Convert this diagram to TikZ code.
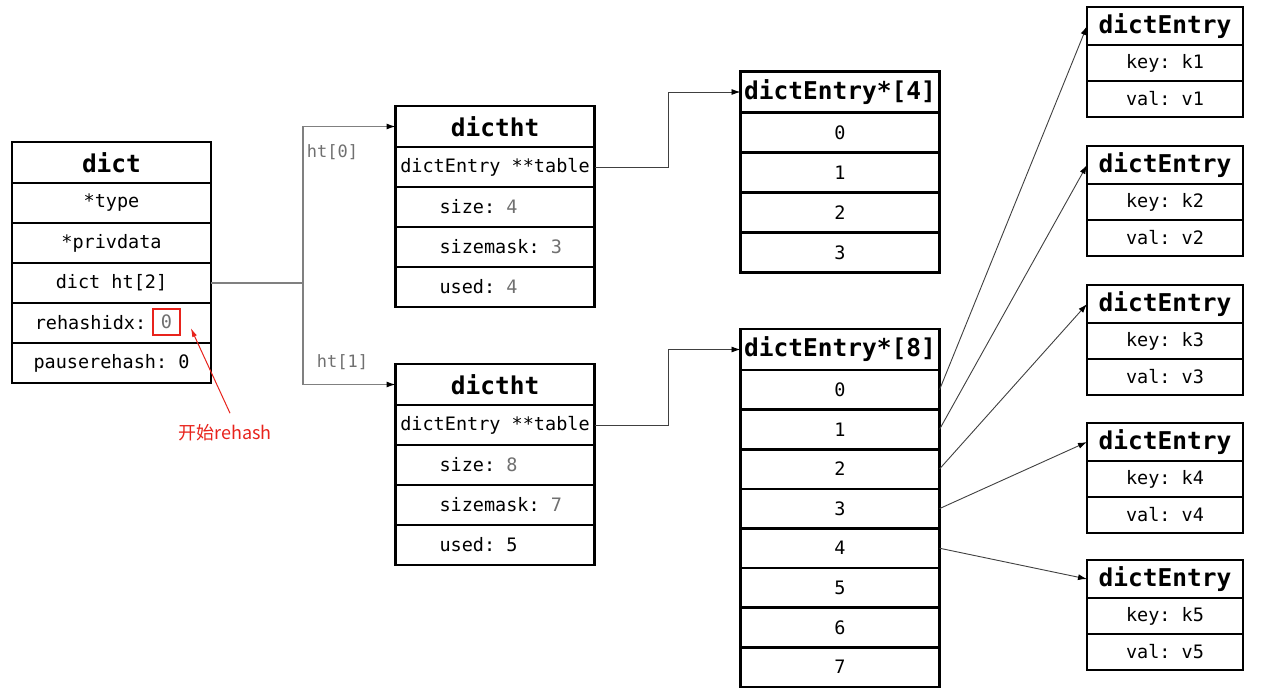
\documentclass[tikz,border=0pt]{standalone}
\usepackage{fontspec}
\setmonofont{DejaVu Sans Mono}
\newfontfamily\cjk{Noto Sans CJK SC}
\usetikzlibrary{arrows.meta,positioning}
\definecolor{valgray}{HTML}{707070}
\definecolor{linkgray}{HTML}{808080}
\definecolor{notered}{HTML}{E8231C}
\newcommand{\gv}[1]{\textcolor{valgray}{#1}}
\newcommand{\fld}[1]{\makebox[111pt][l]{#1}}

\begin{document}
\begin{tikzpicture}[x=1pt,y=-1pt,>=Latex,node distance=0pt,
box/.style={draw,line width=2.6pt,outer sep=0pt,inner sep=0pt,minimum width=199pt,minimum height=40pt,font=\ttfamily\fontsize{18.5}{20}\selectfont},
head/.style={box,minimum height=41pt,font=\ttfamily\bfseries\fontsize{24.5}{26}\selectfont},
ent/.style={box,minimum width=156pt,minimum height=36pt},
enthead/.style={head,minimum width=156pt,minimum height=38pt},
wire/.style={linkgray,line width=1.1pt},
link/.style={wire,-{Latex[length=9pt,width=6pt,color=black]}},
ptr/.style={black!75,line width=0.9pt,-{Latex[length=9pt,width=6pt,color=black]}},
lab/.style={font=\ttfamily\fontsize{17}{18}\selectfont,text=valgray}]
\useasboundingbox[fill=white] (0,0) rectangle (1268,699);
\node[head] (dict) at (111.5,162.5) {dict};
\node[box,below=of dict] (dtype) {*type};
\node[box,below=of dtype] (dpriv) {*privdata};
\node[box,below=of dpriv] (dht) {dict ht[2]};
\node[box,below=of dht] (didx) {rehashidx:\rule{42pt}{0pt}};
\node[box,below=of didx] (dpause) {pauserehash: 0};
\node[draw=notered,line width=1.6pt,minimum width=27pt,minimum height=26pt,inner sep=0pt,font=\ttfamily\fontsize{18.5}{20}\selectfont,text=valgray] (zero) at (166.5,322) {0};
\node[font=\cjk\fontsize{18}{20}\selectfont,text=notered] (note) at (225,433) {开始rehash};
\draw[notered,line width=1pt,-{Latex[length=9pt,width=5pt]}] ([shift={(5,-8)}]note.north) -- ([shift={(10,6)}]zero.east);
\foreach \n/\y/\s/\m/\u in {0/126.5/\gv{4}/\gv{3}/\gv{4},1/384.5/\gv{8}/\gv{7}/5} {
  \node[head] (ht\n) at (495,\y) {dictht};
  \node[box,below=of ht\n] (tab\n) {dictEntry **table};
  \node[box,below=of tab\n] (size\n) {\fld{size: \s}};
  \node[box,below=of size\n] (mask\n) {\fld{sizemask: \m}};
  \node[box,below=of mask\n] (used\n) {\fld{used: \u}};
}
\node[head] (a4) at (840,92) {dictEntry*[4]};
\foreach \i in {0,...,3} \node[box] (a4-\i) at (840,{132.5+40*\i}) {\i};
\node[head] (a8) at (840,349.5) {dictEntry*[8]};
\foreach \i in {0,...,7} \node[box,minimum height=39.6pt] (a8-\i) at (840,{389.8+39.6*\i}) {\i};
\foreach \k/\t in {1/7,2/146,3/285,4/423,5/560} {
  \node[enthead] (e\k) at (1165,{\t+19}) {dictEntry};
  \node[ent,below=of e\k] (k\k) {key: k\k};
  \node[ent,below=of k\k] (v\k) {val: v\k};
}
\draw[wire] (dht.east) -- ++(92,0) coordinate (fork);
\draw[link] (fork) |- (ht0.west) node[lab,pos=.5,below right,yshift=-14pt] {ht[0]};
\draw[link] (fork) |- (ht1.west) node[lab,pos=.5,above right,xshift=10pt,yshift=11pt] {ht[1]};
\draw[ptr] (tab0.east) -- ++(74,0) |- (a4.west);
\draw[ptr] (tab1.east) -- ++(74,0) |- (a8.west);
\foreach \i/\k in {0/1,1/2,2/3,3/4,4/5} \draw[ptr] (a8-\i.east) -- (e\k.west);
\end{tikzpicture}
\end{document}
